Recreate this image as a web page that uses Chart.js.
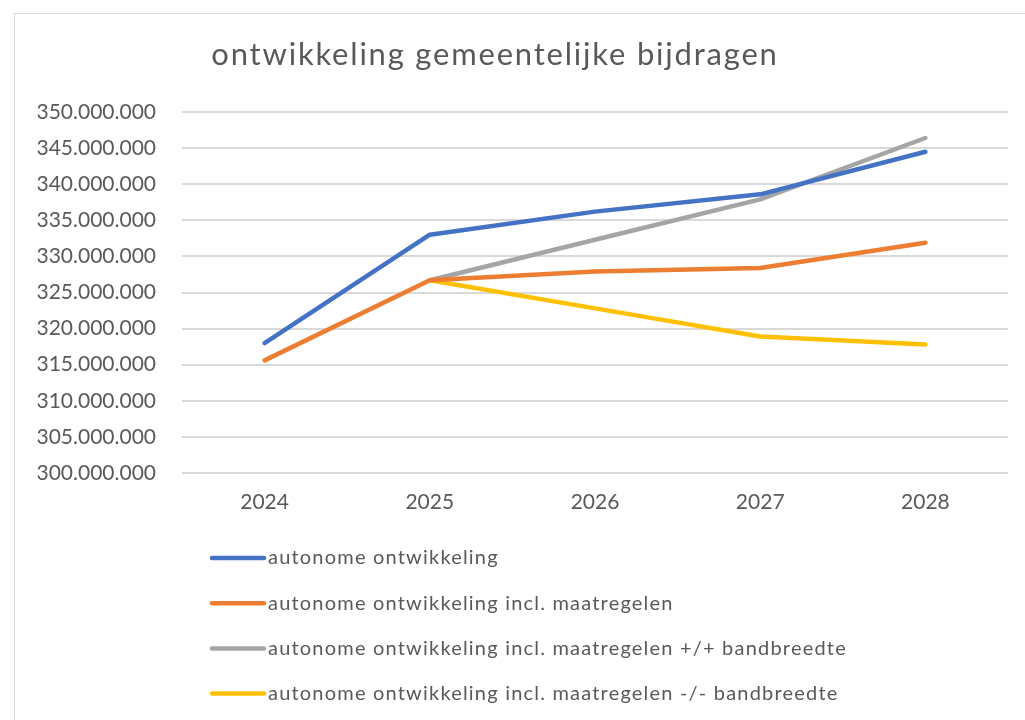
<!DOCTYPE html>
<html>
<head>
<meta charset="utf-8">
<script src="https://cdn.jsdelivr.net/npm/chart.js@4/dist/chart.umd.min.js"></script>
<style>
  html, body { margin: 0; padding: 0; background: #ffffff; overflow: hidden; }
  #wrap { position: relative; width: 1025px; height: 720px; }
  #frame { position: absolute; left: 14px; top: 13px; width: 1100px; height: 800px; border: 1px solid #d9d9d9; box-sizing: border-box; }
  #c { position: absolute; left: 0; top: 0; }
</style>
</head>
<body>
<div id="wrap">
  <div id="frame"></div>
  <canvas id="c" width="1025" height="720"></canvas>
</div>
<script>
const chartTitle = "ontwikkeling gemeentelijke bijdragen";
const years = ["2024", "2025", "2026", "2027", "2028"];
const seriesNames = [
  "autonome ontwikkeling",
  "autonome ontwikkeling incl. maatregelen",
  "autonome ontwikkeling incl. maatregelen +/+ bandbreedte",
  "autonome ontwikkeling incl. maatregelen -/- bandbreedte"
];
const autonoom = [318000000, 333000000, 336200000, 338600000, 344500000];
const inclMaatregelen = [315600000, 326700000, 327900000, 328400000, 331900000];
const bandbreedtePlus = [null, 326700000, 332300000, 337900000, 346400000];
const bandbreedteMin = [null, 326700000, 322800000, 318900000, 317800000];
const yMin = 300000000, yMax = 350000000, yStep = 5000000;

const colors = ["#4472C4", "#ED7D31", "#A5A5A5", "#FFC000"];
const textColor = "#595959";
const FONT = "Lato, 'Open Sans', sans-serif";

function fmt(v) {
  return String(Math.round(v)).replace(/\B(?=(\d{3})+(?!\d))/g, ".");
}

const seriesData = [autonoom, inclMaatregelen, bandbreedtePlus, bandbreedteMin];

const titleAndLegend = {
  id: "titleAndLegend",
  afterDraw(chart) {
    const ctx = chart.ctx;
    ctx.save();
    // title
    ctx.fillStyle = textColor;
    ctx.font = "31px " + FONT;
    ctx.letterSpacing = "1.8px";
    ctx.textAlign = "center";
    ctx.textBaseline = "alphabetic";
    ctx.fillText(chartTitle, 495, 65);
    // legend (vertical list)
    ctx.font = "20px " + FONT;
    ctx.letterSpacing = "1.2px";
    ctx.textAlign = "left";
    ctx.textBaseline = "middle";
    chart.data.datasets.forEach((ds, i) => {
      const y = 558 + i * 45.2;
      ctx.strokeStyle = ds.borderColor;
      ctx.lineWidth = 4.5;
      ctx.lineCap = "round";
      ctx.beginPath();
      ctx.moveTo(212, y);
      ctx.lineTo(264, y);
      ctx.stroke();
      ctx.fillStyle = textColor;
      ctx.fillText(ds.label, 268, y);
    });
    ctx.restore();
  }
};

new Chart(document.getElementById("c"), {
  type: "line",
  data: {
    labels: years,
    datasets: seriesNames.map((name, i) => ({
      label: name,
      data: seriesData[i],
      borderColor: colors[i],
      backgroundColor: colors[i],
      borderWidth: 4.5,
      borderCapStyle: "round",
      borderJoinStyle: "round",
      pointRadius: 0,
      pointHoverRadius: 0,
      tension: 0,
      spanGaps: false,
      fill: false
    }))
  },
  options: {
    responsive: false,
    animation: false,
    devicePixelRatio: 1,
    layout: { padding: { top: 112, right: 17, bottom: 205, left: 0 } },
    plugins: {
      legend: { display: false },
      title: { display: false },
      tooltip: { enabled: false }
    },
    scales: {
      x: {
        offset: true,
        grid: { display: false, drawTicks: false },
        border: { display: false },
        ticks: { color: textColor, font: { family: FONT, size: 21 }, padding: 17 },
        afterFit(scale) { scale.height = 42; }
      },
      y: {
        min: yMin,
        max: yMax,
        ticks: {
          stepSize: yStep,
          color: textColor,
          font: { family: FONT, size: 21 },
          padding: 26,
          callback: (v) => fmt(v)
        },
        grid: { color: "#d9d9d9", lineWidth: 2, drawTicks: false },
        border: { display: false },
        afterFit(scale) { scale.width = 182; }
      }
    }
  },
  plugins: [titleAndLegend]
});
</script>
</body>
</html>
